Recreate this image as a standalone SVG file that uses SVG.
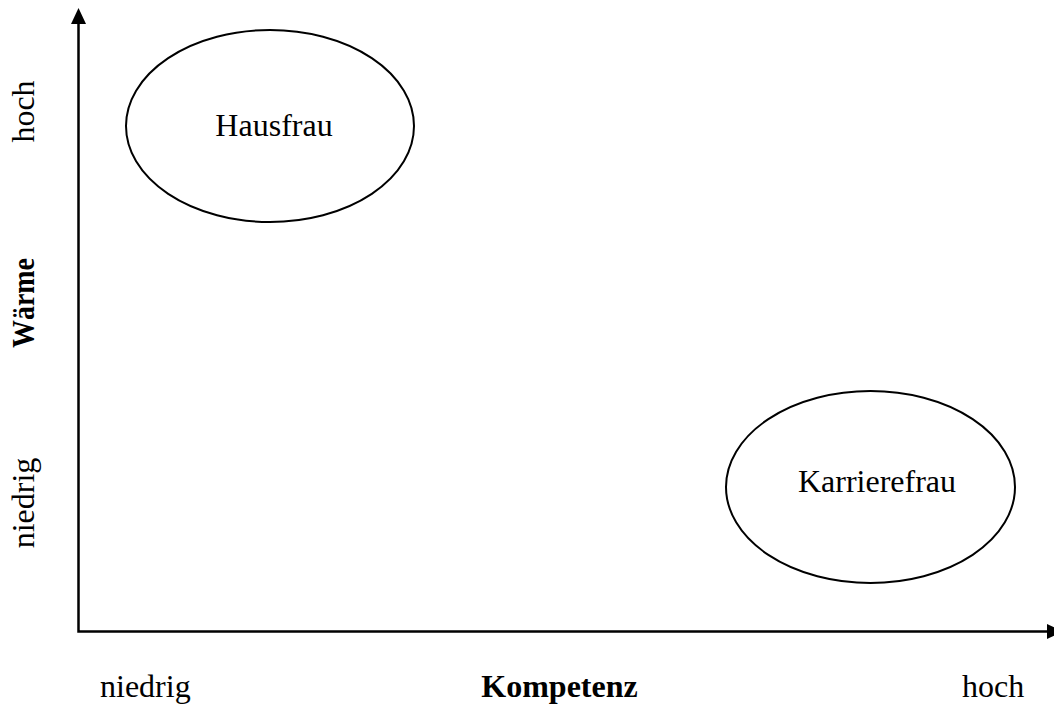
<svg xmlns="http://www.w3.org/2000/svg" width="1054" height="705" viewBox="0 0 1054 705">
  <style>
    text { font-family: "Liberation Serif", "Times New Roman", serif; font-size: 32px; fill: #000; }
    .b { font-weight: bold; }
    .node ellipse { fill: none; stroke: #000; stroke-width: 2; }
    .axis { stroke: #000; stroke-width: 2.5; fill: none; }
  </style>

  <!-- axes -->
  <g id="connectors">
    <polyline class="axis" points="78.5,24 78.5,631.5 1047,631.5"/>
    <polygon points="78.5,8 71,24 86,24" fill="#000"/>
    <polygon points="1063,631.5 1047,624 1047,639" fill="#000"/>
  </g>

  <!-- axis labels -->
  <g id="y-labels">
    <text transform="translate(34,111.5) rotate(-90)" text-anchor="middle">hoch</text>
    <text class="b" transform="translate(34,303) rotate(-90)" text-anchor="middle" textLength="90" lengthAdjust="spacingAndGlyphs">Wärme</text>
    <text transform="translate(34,503) rotate(-90)" text-anchor="middle">niedrig</text>
  </g>
  <g id="x-labels">
    <text x="100" y="697">niedrig</text>
    <text class="b" x="559.5" y="697" text-anchor="middle">Kompetenz</text>
    <text x="962" y="697">hoch</text>
  </g>

  <!-- categories -->
  <g id="hausfrau" class="node">
    <ellipse cx="270" cy="126" rx="144" ry="96"/>
    <text x="274" y="136" text-anchor="middle">Hausfrau</text>
  </g>
  <g id="karrierefrau" class="node">
    <ellipse cx="870.5" cy="487" rx="144.5" ry="96"/>
    <text x="877" y="492" text-anchor="middle">Karrierefrau</text>
  </g>
</svg>
